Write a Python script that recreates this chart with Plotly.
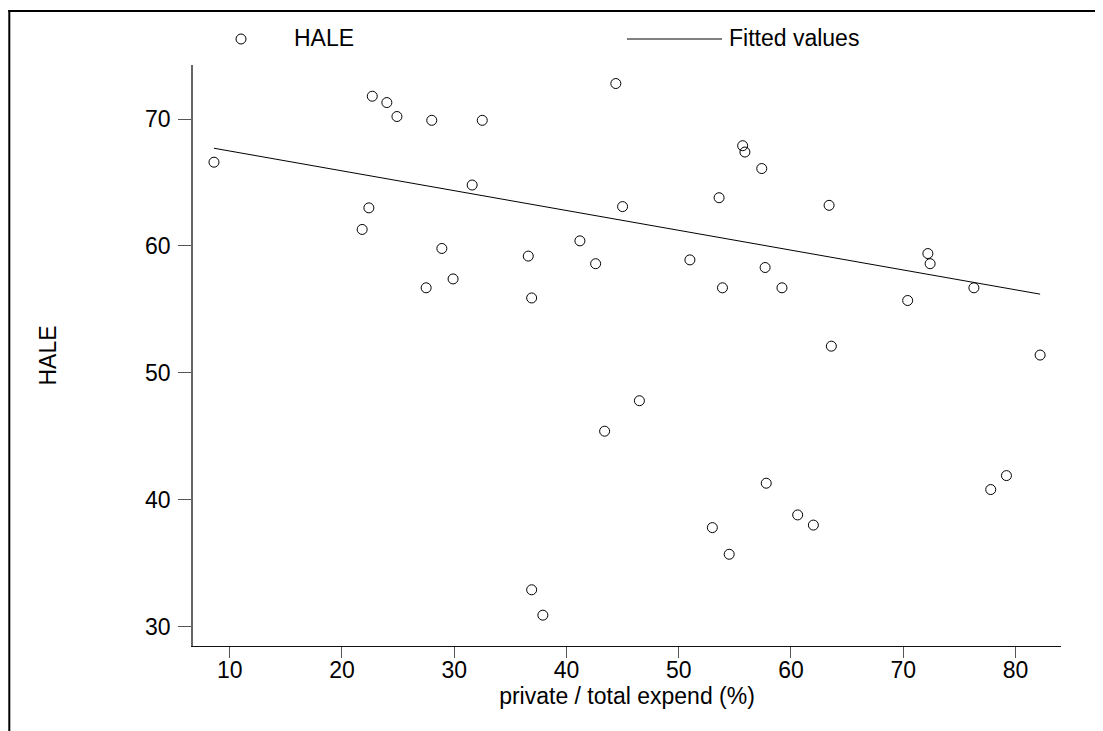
import plotly.graph_objects as go

# ---- data ----
private_share = [8.6, 22.7, 24.0, 24.9, 28.0, 32.5, 31.6, 22.4, 21.8, 28.9,
                 27.5, 29.9, 36.6, 36.9, 41.2, 44.4, 45.0, 42.6, 51.0, 53.6,
                 55.7, 55.9, 57.4, 53.9, 57.7, 59.2, 63.4, 63.6, 72.2, 72.4,
                 70.4, 76.3, 82.2, 46.5, 43.4, 57.8, 53.0, 54.5, 60.6, 62.0,
                 36.9, 37.9, 77.8, 79.2]
hale = [66.6, 71.8, 71.3, 70.2, 69.9, 69.9, 64.8, 63.0, 61.3, 59.8,
        56.7, 57.4, 59.2, 55.9, 60.4, 72.8, 63.1, 58.6, 58.9, 63.8,
        67.9, 67.4, 66.1, 56.7, 58.3, 56.7, 63.2, 52.1, 59.4, 58.6,
        55.7, 56.7, 51.4, 47.8, 45.4, 41.3, 37.8, 35.7, 38.8, 38.0,
        32.9, 30.9, 40.8, 41.9]
fitted_x = [8.6, 82.2]
fitted_y = [67.7, 56.2]
x_ticks = [10, 20, 30, 40, 50, 60, 70, 80]
y_ticks = [30, 40, 50, 60, 70]

FONT = "Liberation Sans, Arial, sans-serif"
FS = 23

fig = go.Figure()
fig.add_trace(go.Scatter(
    x=private_share, y=hale, mode="markers", name="HALE",
    marker=dict(symbol="circle-open", size=10, color="black",
                line=dict(width=1, color="black")),
    showlegend=False))
fig.add_trace(go.Scatter(
    x=fitted_x, y=fitted_y, mode="lines", name="Fitted values",
    line=dict(color="black", width=1), showlegend=False))

OFF = 8  # page body margin
W, H = 1095, 723  # so that the page (with its margin) fits the window
L, T = 185, 57
pw, ph = 868, 581
R, B = W - L - pw, H - T - ph


def px(xs):
    return (xs - OFF - L) / pw


def py(ys):
    return (T + ph - (ys - OFF)) / ph


shapes = [
    # outer frame (left and top edges visible)
    dict(type="line", xref="paper", yref="paper", x0=px(8.3), x1=px(1120),
         y0=py(11), y1=py(11), line=dict(color="black", width=2)),
    dict(type="line", xref="paper", yref="paper", x0=px(9.3), x1=px(9.3),
         y0=py(10), y1=py(760), line=dict(color="black", width=2)),
    # legend symbols
    dict(type="circle", xref="paper", yref="paper", xsizemode="pixel",
         ysizemode="pixel", xanchor=px(241), yanchor=py(39),
         x0=-5, x1=5, y0=-5, y1=5, line=dict(color="black", width=1)),
    dict(type="line", xref="paper", yref="paper", x0=px(627), x1=px(722),
         y0=py(39), y1=py(39), line=dict(color="black", width=1)),
]

annotations = [
    dict(text="HALE", xref="paper", yref="paper", x=px(292), y=py(38),
         xanchor="left", yanchor="middle", showarrow=False,
         font=dict(family=FONT, size=FS, color="black")),
    dict(text="Fitted values", xref="paper", yref="paper", x=px(727), y=py(38),
         xanchor="left", yanchor="middle", showarrow=False,
         font=dict(family=FONT, size=FS, color="black")),
]

fig.update_layout(
    width=W, height=H,
    margin=dict(l=L, r=R, t=T, b=B, pad=0),
    paper_bgcolor="white", plot_bgcolor="white",
    font=dict(family=FONT, size=FS, color="black"),
    shapes=shapes, annotations=annotations,
    showlegend=False,
)
fig.update_xaxes(
    range=[6.73, 84.06], tickvals=x_ticks, ticks="outside", ticklen=11,
    tickcolor="#555", tickwidth=1.2, showgrid=False, zeroline=False,
    showline=True, linecolor="#111", linewidth=1.2,
    tickfont=dict(family=FONT, size=FS, color="black"),
    ticklabelstandoff=-8,
    title=dict(text="private / total expend (%)", standoff=0,
               font=dict(family=FONT, size=FS, color="black")),
)
fig.update_yaxes(
    range=[28.47, 74.26], tickvals=y_ticks, ticks="outside", ticklen=13,
    tickcolor="#555", tickwidth=1.2, showgrid=False, zeroline=False,
    showline=True, linecolor="#666", linewidth=1.5,
    tickfont=dict(family=FONT, size=FS, color="black"),
    ticklabelstandoff=3,
    title=dict(text="HALE", standoff=82,
               font=dict(family=FONT, size=FS, color="black")),
)

fig.write_html("out.html", config={"displayModeBar": False})
